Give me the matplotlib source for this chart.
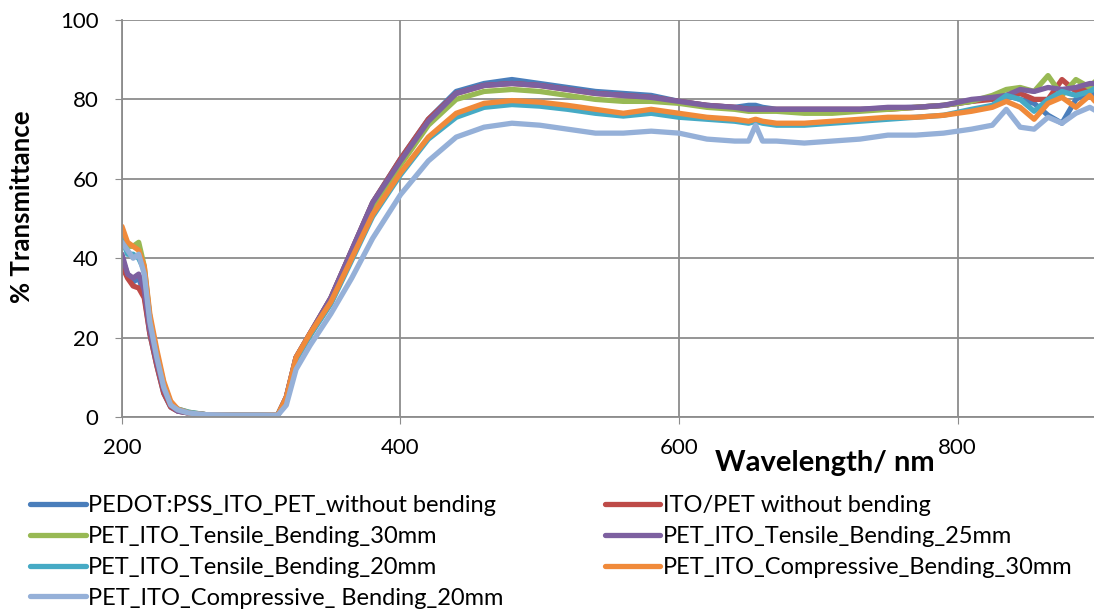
import matplotlib
matplotlib.use("Agg")
import matplotlib.pyplot as plt

plt.rcParams['font.family'] = ['Lato', 'DejaVu Sans']

# wavelength grid (nm)
wl = [200, 204, 208, 212, 216, 220, 225, 230, 235, 240, 248, 260, 280, 300, 312, 318,
      325, 335, 350, 365, 380, 400, 420, 440, 460, 480, 500, 520, 540, 560, 580, 600,
      620, 640, 650, 655, 660, 670, 690, 710, 730, 750, 770, 790, 810, 825, 835, 845,
      855, 865, 875, 885, 895, 900]

# % transmittance
pedot_ito_pet = [40, 36, 34, 35, 31, 21, 13, 6, 2.5, 1.5, 1, 0.6, 0.5, 0.5, 0.6, 5,
                 15, 21, 30, 42, 54, 65, 75, 82, 84, 85, 84, 83, 82, 81.5, 81, 79.5,
                 78.5, 78, 78.5, 78.5, 78, 77.5, 77.5, 77.5, 77.5, 77.8, 78, 78.5, 79.5, 80.5, 81, 80,
                 79, 76, 74, 80, 82, 80]
ito_pet = [38, 35, 33, 32.5, 30, 21, 13, 6, 2.5, 1.5, 1, 0.6, 0.5, 0.5, 0.6, 5,
           15, 21, 30, 42, 54, 65, 75, 81.5, 83.5, 84, 83.5, 82.5, 81.5, 81, 80.5, 79.5,
           78.5, 78, 77.5, 77.5, 77.5, 77.5, 77.5, 77.5, 77.5, 77.5, 78, 78.5, 79.5, 80, 81, 81.5,
           80, 80, 85, 82, 83, 83]
tensile_30 = [45, 43, 43, 44, 38, 25, 16, 8.5, 3.5, 2, 1.2, 0.6, 0.5, 0.5, 0.6, 4.5,
              14.5, 20.5, 29.5, 41, 53, 63.5, 73.5, 80, 82, 82.5, 82, 81, 80, 79.5, 79.5, 79,
              78, 77.5, 77, 77, 77, 77, 76.5, 76.5, 77, 77.5, 78, 78.5, 79.5, 81, 82.5, 83,
              82, 86, 81, 85, 83, 85]
tensile_25 = [41, 36, 35, 36, 32, 22, 14, 7, 3, 1.5, 1, 0.6, 0.5, 0.5, 0.6, 5,
              15, 21, 30, 42, 54, 64.5, 74.5, 81.5, 83.5, 84, 83.5, 82.5, 81.5, 81, 80.5, 79.5,
              78.5, 78, 77.5, 77.5, 77.5, 77.5, 77.5, 77.5, 77.5, 78, 78, 78.5, 80, 80.5, 81, 82.5,
              82, 83, 82.5, 83, 84, 84]
tensile_20 = [45, 41, 41, 40, 37, 25, 16, 8, 3.5, 2, 1.2, 0.6, 0.5, 0.5, 0.6, 4.5,
              14.5, 20.5, 28.5, 39.5, 50.5, 61, 70, 75.5, 78, 78.7, 78.3, 77.5, 76.5, 75.8, 76.5, 75.5,
              75, 74.5, 74, 74.5, 74, 73.5, 73.5, 74, 74.5, 75, 75.5, 76, 77.5, 78.5, 81, 80,
              77, 80, 82, 81, 82, 83]
compressive_30 = [48, 44, 43, 42, 38, 26, 17, 9, 4, 2, 1, 0.6, 0.5, 0.5, 0.6, 5,
                  15, 21, 29, 40, 51, 61.5, 70.5, 76.5, 79, 79.7, 79.3, 78.5, 77.5, 76.5, 77.5, 76.5,
                  75.5, 75, 74.5, 75, 74.5, 74, 74, 74.5, 75, 75.5, 75.5, 76, 77, 78, 79.5, 78,
                  75, 79, 80.5, 78, 81, 79]
compressive_20 = [44, 42, 40, 41, 36, 24, 15, 7.5, 3, 1.8, 1, 0.6, 0.5, 0.5, 0.5, 3,
                  12, 18, 26, 35, 45, 56, 64.5, 70.5, 73, 74, 73.5, 72.5, 71.5, 71.5, 72, 71.5,
                  70, 69.5, 69.5, 73.5, 69.5, 69.5, 69, 69.5, 70, 71, 71, 71.5, 72.5, 73.5, 77.5, 73,
                  72.5, 75.5, 74, 76.5, 78, 77]

labels = ["PEDOT:PSS_ITO_PET_without bending", "ITO/PET without bending",
          "PET_ITO_Tensile_Bending_30mm", "PET_ITO_Tensile_Bending_25mm",
          "PET_ITO_Tensile_Bending_20mm", "PET_ITO_Compressive_Bending_30mm",
          "PET_ITO_Compressive_ Bending_20mm"]
series = [pedot_ito_pet, ito_pet, tensile_30, tensile_25, tensile_20, compressive_30, compressive_20]
colors = ['#4A7EBB', '#BE4B48', '#98B954', '#7D60A0', '#46AAC5', '#F08A3A', '#95B0D8']

fig = plt.figure(figsize=(10.94, 6.13), dpi=100)
ax = fig.add_axes([0.1115, 0.3197, 0.8885, 0.6477])

lines = []
for y, c, lab in zip(series, colors, labels):
    ln, = ax.plot(wl, y, color=c, lw=3.8, label=lab, solid_capstyle='round')
    lines.append(ln)

ax.set_xlim(200, 898)
ax.set_ylim(0, 100)
ax.set_xticks([200, 400, 600, 800])
ax.set_yticks([0, 20, 40, 60, 80, 100])
ax.grid(True, color='#8c8c8c', lw=1.3)
ax.set_axisbelow(True)
for s in ['top', 'right']:
    ax.spines[s].set_visible(False)
for s in ['left', 'bottom']:
    ax.spines[s].set_color('#8c8c8c')
    ax.spines[s].set_linewidth(1.3)
ax.tick_params(axis='x', direction='out', length=5, color='#8c8c8c', pad=10, labelsize=16)
ax.tick_params(axis='y', direction='out', length=5, color='#8c8c8c', pad=12, labelsize=16)

ax.set_ylabel("% Transmittance", fontsize=18.5, fontweight='bold')
ax.yaxis.set_label_coords(-0.091, 0.53)
fig.text(0.754, 0.245, "Wavelength/ nm", fontsize=21, fontweight='bold', ha='center', va='center')

# row-major order for a 2 column legend
order = [0, 2, 4, 6, 1, 3, 5]
fig.legend([lines[i] for i in order], [labels[i] for i in order], ncol=2,
           loc='upper left', bbox_to_anchor=(0.019, 0.208), frameon=False,
           fontsize=17, handlelength=2.35, handletextpad=0.1, columnspacing=4.3,
           labelspacing=0.42, borderaxespad=0)

fig.savefig("out.png", dpi=100)
